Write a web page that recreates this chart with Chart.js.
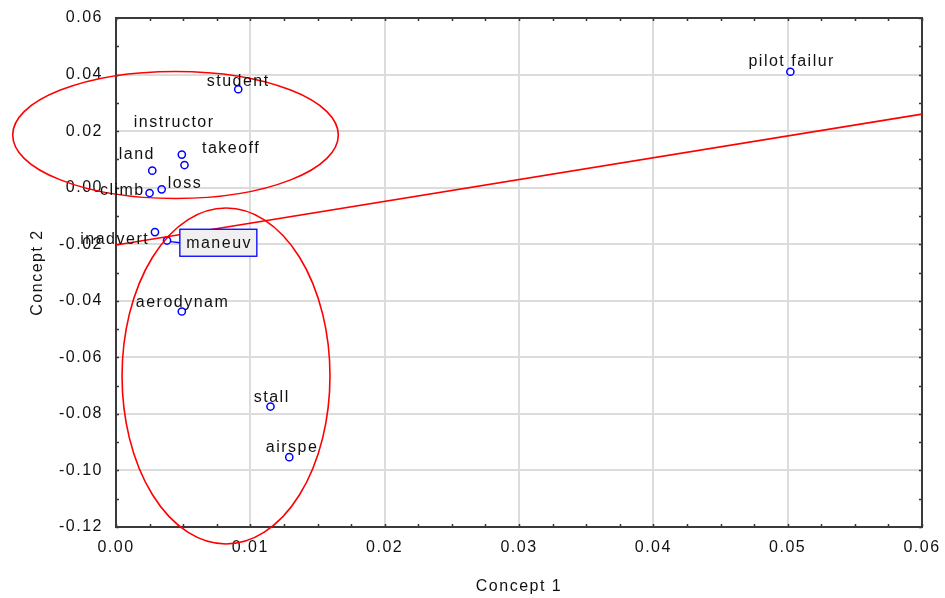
<!DOCTYPE html>
<html>
<head>
<meta charset="utf-8">
<script src="https://cdn.jsdelivr.net/npm/chart.js@4.4.1/dist/chart.umd.min.js"></script>
<style>
  html, body { margin: 0; padding: 0; background: #ffffff; }
  #wrap { width: 945px; height: 598px; }
</style>
</head>
<body>
<div id="wrap"><canvas id="c" width="945" height="598"></canvas></div>
<script>
// Term coordinates on the first two concepts
const terms    = ['student', 'pilot failur', 'instructor', 'takeoff', 'land', 'loss',
                  'climb', 'inadvert', 'maneuv', 'aerodynam', 'stall', 'airspe'];
const concept1 = [0.0091, 0.0502, 0.0049, 0.0051, 0.0027, 0.0034,
                  0.0025, 0.0029, 0.0038, 0.0049, 0.0115, 0.0129];
const concept2 = [0.0348, 0.0410, 0.0117, 0.0080, 0.0060, -0.0006,
                  -0.0019, -0.0157, -0.0187, -0.0438, -0.0774, -0.0953];

// Axis tick values
const xTicks = [0.00, 0.01, 0.02, 0.03, 0.04, 0.05, 0.06];
const yTicks = [-0.12, -0.10, -0.08, -0.06, -0.04, -0.02, 0.00, 0.02, 0.04, 0.06];

// Hand-drawn group outlines: [centre x, centre y, radius x, radius y]
const upperGroup = [0.00443, 0.01863, 0.01212, 0.02245];
const lowerGroup = [0.00819, -0.0666, 0.00774, 0.0594];
// Separating line: [x0, y0, x1, y1]
const dividerLine = [0.0, -0.0203, 0.06, 0.0260];

const FONT = '"Liberation Sans", Arial, sans-serif';

const overlay = {
  id: 'overlay',
  beforeDraw(chart) {
    chart.ctx.letterSpacing = '1.5px';
  },
  beforeDatasetsDraw(chart) {
    const { ctx, chartArea: a, scales: { x, y } } = chart;
    ctx.save();
    ctx.strokeStyle = '#333333';
    ctx.lineWidth = 1.5;
    const tl = 3;
    ctx.beginPath();
    for (let v = 0; v <= 0.06 + 1e-9; v += 0.0025) {
      const px = Math.round(x.getPixelForValue(v)) + 0.5;
      ctx.moveTo(px, a.bottom); ctx.lineTo(px, a.bottom - tl);
      ctx.moveTo(px, a.top); ctx.lineTo(px, a.top + tl);
    }
    for (let v = -0.12; v <= 0.06 + 1e-9; v += 0.01) {
      const py = Math.round(y.getPixelForValue(v)) + 0.5;
      ctx.moveTo(a.left, py); ctx.lineTo(a.left + tl, py);
      ctx.moveTo(a.right, py); ctx.lineTo(a.right - tl, py);
    }
    ctx.stroke();
    ctx.lineWidth = 2;
    ctx.strokeStyle = '#3a3a3a';
    ctx.strokeRect(a.left, a.top, a.right - a.left, a.bottom - a.top);
    ctx.restore();
  },
  afterDatasetsDraw(chart, args, opts) {
    const { ctx, scales: { x, y } } = chart;
    ctx.save();
    // red group outlines and divider
    ctx.strokeStyle = '#ff0000';
    ctx.lineWidth = 1.6;
    [upperGroup, lowerGroup].forEach(g => {
      const cx = x.getPixelForValue(g[0]);
      const cy = y.getPixelForValue(g[1]);
      const rx = Math.abs(x.getPixelForValue(g[0] + g[2]) - cx);
      const ry = Math.abs(y.getPixelForValue(g[1] + g[3]) - cy);
      ctx.beginPath();
      ctx.ellipse(cx, cy, rx, ry, 0, 0, Math.PI * 2);
      ctx.stroke();
    });
    ctx.beginPath();
    ctx.moveTo(x.getPixelForValue(dividerLine[0]), y.getPixelForValue(dividerLine[1]));
    ctx.lineTo(x.getPixelForValue(dividerLine[2]), y.getPixelForValue(dividerLine[3]));
    ctx.stroke();

    // term labels
    ctx.font = '16px ' + FONT;
    ctx.letterSpacing = '1.5px';
    ctx.fillStyle = '#111111';
    ctx.textAlign = 'center';
    ctx.textBaseline = 'alphabetic';
    terms.forEach((t, i) => {
      const px = x.getPixelForValue(concept1[i]);
      const py = y.getPixelForValue(concept2[i]);
      const off = opts.offsets[t] || [0, -5];
      if (t === opts.boxed) {
        const bx = px + off[0], by = py + off[1];
        const w = 77, h = 27;
        ctx.strokeStyle = '#0000ff';
        ctx.lineWidth = 1.3;
        ctx.beginPath();
        ctx.moveTo(px + 3.5, py + 1);
        ctx.lineTo(bx - w / 2, by);
        ctx.stroke();
        ctx.fillStyle = '#f0f0f0';
        ctx.fillRect(bx - w / 2, by - h / 2, w, h);
        ctx.strokeRect(bx - w / 2, by - h / 2, w, h);
        ctx.fillStyle = '#111111';
        ctx.fillText(t, bx + 0.75, by + 5.5);
      } else {
        ctx.fillText(t, px + off[0] + 0.75, py + off[1]);
      }
    });
    ctx.restore();
  }
};

const axisFont = { family: FONT, size: 16 };

new Chart(document.getElementById('c'), {
  type: 'scatter',
  data: {
    datasets: [{
      data: terms.map((t, i) => ({ x: concept1[i], y: concept2[i] })),
      pointStyle: 'circle',
      pointRadius: 3.6,
      pointBorderWidth: 1.5,
      borderColor: '#0000ff',
      backgroundColor: 'rgba(0,0,0,0)'
    }]
  },
  options: {
    responsive: false,
    devicePixelRatio: 1,
    animation: false,
    layout: { padding: { left: 0, top: 18, right: 23, bottom: 0 } },
    plugins: {
      legend: { display: false },
      tooltip: { enabled: false },
      overlay: {
        boxed: 'maneuv',
        offsets: {
          'student': [-0.8, -3.5],
          'pilot failur': [0.6, -6],
          'instructor': [-8.4, -27.8],
          'takeoff': [45.8, -11.7],
          'land': [-16.2, -11.4],
          'loss': [22.5, -1.6],
          'climb': [-28, 2],
          'inadvert': [-41, 12],
          'maneuv': [51.3, 2.2],
          'aerodynam': [0, -5],
          'stall': [0.5, -5],
          'airspe': [2, -5.6]
        }
      }
    },
    scales: {
      x: {
        type: 'linear',
        min: 0, max: 0.06,
        afterBuildTicks: s => { s.ticks = xTicks.map(v => ({ value: v })); },
        afterFit: s => { s.height = 71; s.paddingLeft = 0; s.paddingRight = 0; },
        ticks: {
          callback: v => v.toFixed(2),
          font: axisFont, color: '#111111', padding: 11,
          maxRotation: 0, autoSkip: false
        },
        grid: { color: '#dcdcdc', lineWidth: 2, drawTicks: false },
        border: { display: false },
        title: { display: true, text: 'Concept 1', font: axisFont, color: '#111111',
                 padding: { top: 0, bottom: 1.5 } }
      },
      y: {
        type: 'linear',
        min: -0.12, max: 0.06,
        afterBuildTicks: s => { s.ticks = yTicks.map(v => ({ value: v })); },
        afterFit: s => { s.width = 116; s.paddingTop = 0; s.paddingBottom = 0; },
        ticks: {
          callback: v => v.toFixed(2),
          font: axisFont, color: '#111111', padding: 13,
          autoSkip: false
        },
        grid: { color: '#dcdcdc', lineWidth: 2, drawTicks: false },
        border: { display: false },
        title: { display: true, text: 'Concept 2', font: axisFont, color: '#111111',
                 padding: { top: 28.4, bottom: 0 } }
      }
    }
  },
  plugins: [overlay]
});
</script>
</body>
</html>
